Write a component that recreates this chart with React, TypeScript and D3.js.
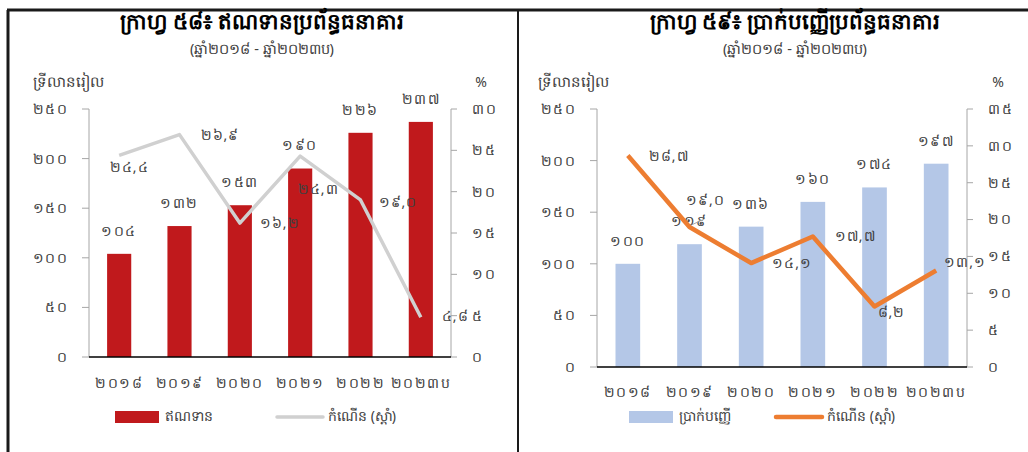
import React from "react";
import * as d3 from "d3";

// ---------- DATA ----------
const years = ["២០១៨", "២០១៩", "២០២០", "២០២១", "២០២២", "២០២៣ប"];

const creditValues = [104, 132, 153, 190, 226, 237];
const creditLabels = ["១០៤", "១៣២", "១៥៣", "១៩០", "២២៦", "២៣៧"];
const creditGrowth = [24.4, 26.9, 16.2, 24.3, 19.0, 4.8];
const creditGrowthLabels = ["២៤,៤", "២៦,៩", "១៦,២", "២៤,៣", "១៩,០", "៤,៨"];

const depositValues = [100, 119, 136, 160, 174, 197];
const depositLabels = ["១០០", "១១៩", "១៣៦", "១៦០", "១៧៤", "១៩៧"];
const depositGrowth = [28.7, 19.0, 14.1, 17.7, 8.2, 13.1];
const depositGrowthLabels = ["២៨,៧", "១៩,០", "១៤,១", "១៧,៧", "៨,២", "១៣,១"];

const leftTicksA = [0, 50, 100, 150, 200, 250];
const leftTickLabelsA = ["០", "៥០", "១០០", "១៥០", "២០០", "២៥០"];
const rightTicksA = [0, 5, 10, 15, 20, 25, 30];
const rightTickLabelsA = ["០", "៥", "១០", "១៥", "២០", "២៥", "៣០"];

const leftTicksB = [0, 50, 100, 150, 200, 250];
const leftTickLabelsB = ["០", "៥០", "១០០", "១៥០", "២០០", "២៥០"];
const rightTicksB = [0, 5, 10, 15, 20, 25, 30, 35];
const rightTickLabelsB = ["០", "៥", "១០", "១៥", "២០", "២៥", "៣០", "៣៥"];

const titleA = "ក្រាហ្វ ៥៨៖ ឥណទានប្រព័ន្ធធនាគារ";
const titleB = "ក្រាហ្វ ៥៩៖ ប្រាក់បញ្ញើប្រព័ន្ធធនាគារ";
const subtitle = "(ឆ្នាំ២០១៨ - ឆ្នាំ២០២៣ប)";
const unitLeft = "ទ្រីលានរៀល";
const unitRight = "%";
const legendBarA = "ឥណទាន";
const legendBarB = "ប្រាក់បញ្ញើ";
const legendLine = "កំណើន (ស្ដាំ)";

// ---------- STYLE ----------
const FONT = "'Noto Sans', 'DejaVu Sans', sans-serif";
const TEXT = "#404040";

type LabelOff = { dx: number; dy: number; anchor: "start" | "middle" };

interface PanelProps {
  cx: number;
  title: string;
  x0: number;
  x1: number;
  yTop: number;
  yBase: number;
  yMax: number;
  y2Max: number;
  leftTicks: number[];
  leftTickLabels: string[];
  rightTicks: number[];
  rightTickLabels: string[];
  bars: number[];
  barLabels: string[];
  growth: number[];
  growthLabels: string[];
  barColor: string;
  lineColor: string;
  lineWidth: number;
  growthOffsets: LabelOff[];
  legendBar: string;
  legendX: number;
  legendLineX: number;
  unitLeftX: number;
  unitRightX: number;
  xLabelY: number;
  leaderIndex?: number;
}

function Panel(p: PanelProps) {
  const x = d3.scaleBand<string>().domain(years).range([p.x0, p.x1]).paddingInner(0.6).paddingOuter(0.3);
  const y = d3.scaleLinear().domain([0, p.yMax]).range([p.yBase, p.yTop]);
  const y2 = d3.scaleLinear().domain([0, p.y2Max]).range([p.yBase, p.yTop]);
  const cxs = (i: number) => (x(years[i]) as number) + x.bandwidth() / 2;
  const line = d3
    .line<number>()
    .x((_, i) => cxs(i))
    .y((d) => y2(d));

  return (
    <g fontFamily={FONT}>
      <text x={p.cx} y={29} textAnchor="middle" fontSize={21.5} fontWeight="bold" fill="#000">
        {p.title}
      </text>
      <text x={p.cx} y={54} textAnchor="middle" fontSize={14.5} fill={TEXT}>
        {subtitle}
      </text>
      <text x={p.unitLeftX} y={87} fontSize={15} fill={TEXT}>
        {unitLeft}
      </text>
      <text x={p.unitRightX} y={87} fontSize={14} fill={TEXT} textAnchor="middle">
        {unitRight}
      </text>

      {/* left axis */}
      <line x1={p.x0} x2={p.x0} y1={p.yTop} y2={p.yBase} stroke="#a6a6a6" />
      {p.leftTicks.map((t, i) => (
        <g key={"l" + t}>
          <line x1={p.x0 - 7} x2={p.x0} y1={y(t)} y2={y(t)} stroke="#a6a6a6" />
          <text x={p.x0 - 21} y={y(t)} dy="0.35em" textAnchor="end" fontSize={14} fill={TEXT} letterSpacing={1.5}>
            {p.leftTickLabels[i]}
          </text>
        </g>
      ))}
      {/* right axis */}
      <line x1={p.x1} x2={p.x1} y1={p.yTop} y2={p.yBase} stroke="#a6a6a6" />
      {p.rightTicks.map((t, i) => (
        <g key={"r" + t}>
          <line x1={p.x1} x2={p.x1 + 6} y1={y2(t)} y2={y2(t)} stroke="#a6a6a6" />
          <text x={p.x1 + 21} y={y2(t)} dy="0.35em" textAnchor="start" fontSize={14} fill={TEXT} letterSpacing={1.5}>
            {p.rightTickLabels[i]}
          </text>
        </g>
      ))}

      {/* bars */}
      {p.bars.map((v, i) => (
        <rect
          key={"b" + i}
          x={x(years[i])}
          y={y(v)}
          width={x.bandwidth()}
          height={p.yBase - y(v)}
          fill={p.barColor}
        />
      ))}
      {p.bars.map((v, i) => (
        <text key={"bl" + i} x={cxs(i)} y={y(v) - 23} dy="0.35em" textAnchor="middle" fontSize={14} fill={TEXT} letterSpacing={1.5}>
          {p.barLabels[i]}
        </text>
      ))}

      {/* baseline */}
      <line x1={p.x0} x2={p.x1} y1={p.yBase} y2={p.yBase} stroke="#000" strokeWidth={1.5} />

      {/* growth line */}
      <path d={line(p.growth) || ""} fill="none" stroke={p.lineColor} strokeWidth={p.lineWidth} strokeLinejoin="round" />
      {p.leaderIndex !== undefined && (
        <line
          x1={cxs(p.leaderIndex) + 2}
          y1={y2(p.growth[p.leaderIndex]) - 2}
          x2={cxs(p.leaderIndex) + 15}
          y2={y2(p.growth[p.leaderIndex]) - 8}
          stroke="#a6a6a6"
          strokeWidth={1}
        />
      )}
      {p.growth.map((v, i) => (
        <text
          key={"gl" + i}
          x={cxs(i) + p.growthOffsets[i].dx}
          y={y2(v) + p.growthOffsets[i].dy}
          dy="0.35em"
          textAnchor={p.growthOffsets[i].anchor}
          fontSize={14}
          fill={TEXT}
          letterSpacing={1}
        >
          {p.growthLabels[i]}
        </text>
      ))}

      {/* x labels */}
      {years.map((yr, i) => (
        <text key={"x" + i} x={cxs(i)} y={p.xLabelY} dy="0.35em" textAnchor="middle" fontSize={14} fill={TEXT} letterSpacing={1.5}>
          {yr}
        </text>
      ))}

      {/* legend */}
      <rect x={p.legendX} y={411} width={44} height={12} fill={p.barColor} />
      <text x={p.legendX + 50} y={416} dy="0.35em" fontSize={14} fill={TEXT}>
        {p.legendBar}
      </text>
      <line x1={p.legendLineX} x2={p.legendLineX + 46} y1={417} y2={417} stroke={p.lineColor} strokeWidth={p.lineWidth} strokeLinecap="round" />
      <text x={p.legendLineX + 51} y={416} dy="0.35em" fontSize={14} fill={TEXT}>
        {legendLine}
      </text>
    </g>
  );
}

const offsetsA: LabelOff[] = [
  { dx: 10, dy: 12, anchor: "middle" },
  { dx: 21, dy: 0, anchor: "start" },
  { dx: 20, dy: 0, anchor: "start" },
  { dx: 18, dy: 33, anchor: "middle" },
  { dx: 18, dy: 2, anchor: "start" },
  { dx: 21, dy: -1, anchor: "start" },
];
const offsetsB: LabelOff[] = [
  { dx: 21, dy: 1, anchor: "start" },
  { dx: 16, dy: -27, anchor: "middle" },
  { dx: 21, dy: 0, anchor: "start" },
  { dx: 22, dy: 0, anchor: "start" },
  { dx: 17, dy: 6, anchor: "middle" },
  { dx: 8, dy: -8, anchor: "start" },
];

export default function App() {
  return (
    <svg width={1028} height={452} style={{ position: "absolute", left: 0, top: 0, background: "#fff" }}>
      <rect x={0} y={0} width={1028} height={452} fill="#fff" />
      {/* frame */}
      <line x1={7} x2={1028} y1={10} y2={10} stroke="#1a1a1a" strokeWidth={3} />
      <line x1={8} x2={8} y1={10} y2={452} stroke="#1a1a1a" strokeWidth={3} />
      <line x1={518} x2={518} y1={10} y2={452} stroke="#1a1a1a" strokeWidth={2} />

      <Panel
        cx={262}
        title={titleA}
        x0={89}
        x1={451}
        yTop={109}
        yBase={357}
        yMax={250}
        y2Max={30}
        leftTicks={leftTicksA}
        leftTickLabels={leftTickLabelsA}
        rightTicks={rightTicksA}
        rightTickLabels={rightTickLabelsA}
        bars={creditValues}
        barLabels={creditLabels}
        growth={creditGrowth}
        growthLabels={creditGrowthLabels}
        barColor="#c0191c"
        lineColor="#d0d0d0"
        lineWidth={3.5}
        growthOffsets={offsetsA}
        legendBar={legendBarA}
        legendX={115}
        legendLineX={277}
        unitLeftX={33}
        unitRightX={481}
        xLabelY={383}
      />
      <Panel
        cx={795}
        title={titleB}
        x0={597}
        x1={967}
        yTop={109}
        yBase={367}
        yMax={250}
        y2Max={35}
        leftTicks={leftTicksB}
        leftTickLabels={leftTickLabelsB}
        rightTicks={rightTicksB}
        rightTickLabels={rightTickLabelsB}
        bars={depositValues}
        barLabels={depositLabels}
        growth={depositGrowth}
        growthLabels={depositGrowthLabels}
        barColor="#b4c7e7"
        lineColor="#ed7d31"
        lineWidth={4.5}
        growthOffsets={offsetsB}
        legendBar={legendBarB}
        legendX={629}
        legendLineX={776}
        unitLeftX={538}
        unitRightX={998}
        xLabelY={392}
        leaderIndex={1}
      />
    </svg>
  );
}
